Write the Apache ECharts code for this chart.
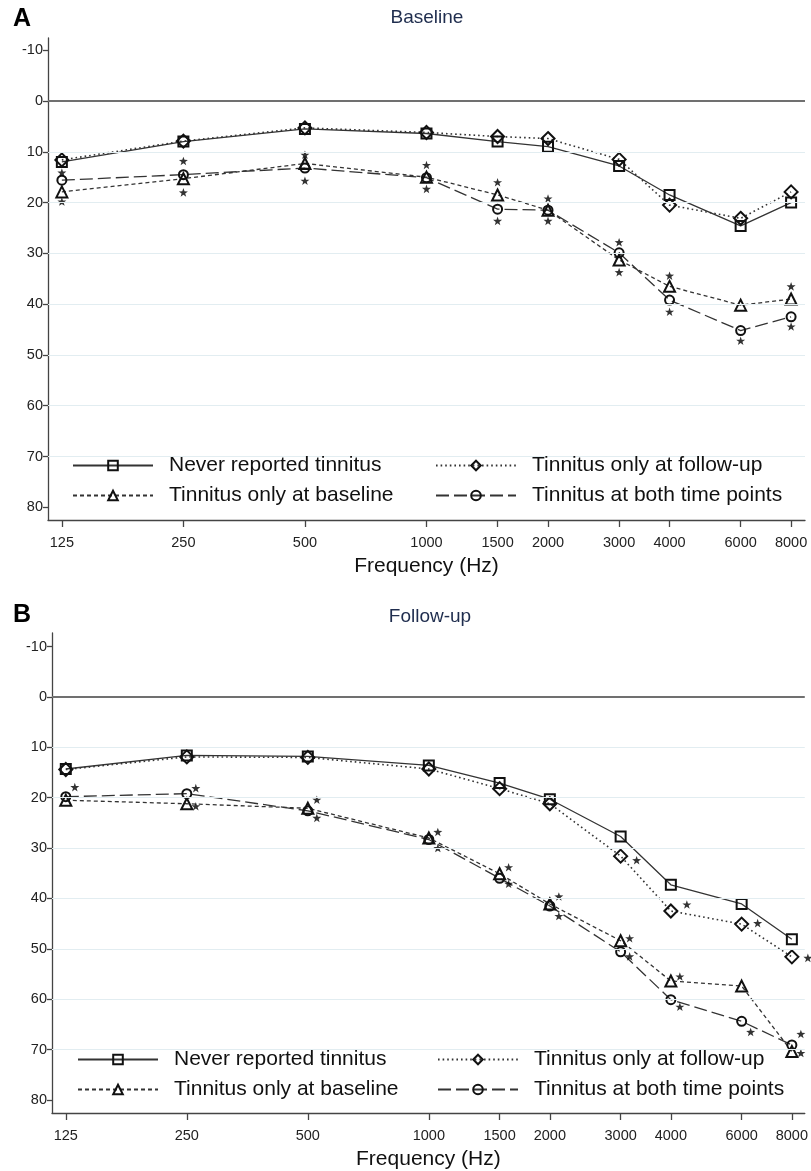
<!DOCTYPE html>
<html><head><meta charset="utf-8">
<script src="https://cdn.jsdelivr.net/npm/echarts@6/dist/echarts.min.js"></script>
<style>html,body{margin:0;padding:0;background:#fff}#c{width:811px;height:1171px}</style>
</head><body><div id="c"></div>
<script>
// ---------- data ----------
const freqs = [125, 250, 500, 1000, 1500, 2000, 3000, 4000, 6000, 8000];
const xTicks = [125, 250, 500, 1000, 1500, 2000, 3000, 4000, 6000, 8000];
const yTicks = [-10, 0, 10, 20, 30, 40, 50, 60, 70, 80];
const gridVals = [10, 20, 30, 40, 50, 60, 70];
const seriesNames = ['Never reported tinnitus', 'Tinnitus only at follow-up', 'Tinnitus only at baseline', 'Tinnitus at both time points'];

// Panel A: Baseline
const neverA    = [12.0, 8.0, 5.5, 6.4, 8.0, 9.0, 12.8, 18.5, 24.6, 20.0];
const followA   = [11.6, 7.9, 5.3, 6.2, 7.0, 7.4, 11.5, 20.5, 23.1, 17.9];
const baselineA = [17.9, 15.3, 12.3, 15.0, 18.5, 21.5, 31.3, 36.5, 40.2, 39.0];
const bothA     = [15.6, 14.5, 13.2, 15.1, 21.3, 21.5, 29.9, 39.2, 45.2, 42.5];
const starsA = [[125,14.1],[125,19.8],[250,11.8],[250,18.0],[500,10.6],[500,15.7],[1000,12.6],[1000,17.3],
                [1500,16.0],[1500,23.6],[2000,19.2],[2000,23.6],[3000,27.8],[3000,33.7],[4000,34.4],[4000,41.5],
                [6000,47.2],[8000,36.5],[8000,44.4]];

// Panel B: Follow-up
const neverB    = [14.3, 11.6, 11.8, 13.6, 17.1, 20.3, 27.7, 37.3, 41.1, 48.1];
const followB   = [14.4, 11.9, 12.0, 14.3, 18.2, 21.2, 31.6, 42.5, 45.1, 51.6];
const baselineB = [20.5, 21.2, 22.1, 28.0, 35.1, 41.1, 48.4, 56.4, 57.4, 70.4];
const bothB     = [19.8, 19.2, 22.6, 28.3, 36.0, 41.5, 50.6, 60.1, 64.4, 69.1];
const starsB = [[125,17.9],[250,18.1],[250,21.7],[500,20.4],[500,24.0],[1000,26.8],[1000,30.0],[1500,33.8],[1500,37.1],
                [2000,39.6],[2000,43.5],[3000,47.9],[3000,51.5],[4000,55.5],[4000,61.5],[6000,66.5],[8000,66.9],[8000,70.7]];
const starsBFollow = [[3000,32.4],[4000,41.2],[6000,44.9],[8000,51.8]];

// ---------- styles ----------
const sans = "'Liberation Sans', Arial, sans-serif";
const lineCol = '#333333';
const markCol = '#111111';
const starPath = 'path://M0,-10 L2.35,-3.24 L9.51,-3.09 L3.8,1.24 L5.88,8.09 L0,4 L-5.88,8.09 L-3.8,1.24 L-9.51,-3.09 L-2.35,-3.24 Z';
const styles = {
  'Never reported tinnitus':      {symbol:'rect', size:10, dash:'solid', w:1.3},
  'Tinnitus only at follow-up':   {symbol:'diamond', size:[13,13], dash:[1.6,3], w:1.6},
  'Tinnitus only at baseline':    {symbol:'triangle', size:11, dash:[4,3], w:1.3},
  'Tinnitus at both time points': {symbol:'circle', size:9, dash:[13,5], w:1.3}
};

function pairs(vals){ return freqs.map((f,i)=>[f, vals[i]]); }

function lineSeries(name, vals, idx){
  const s = styles[name];
  return {
    type:'line', name, xAxisIndex:idx, yAxisIndex:idx, data:pairs(vals),
    symbol:s.symbol, symbolSize:s.size, showAllSymbol:true, z:3,
    lineStyle:{color:lineCol, width:s.w, type:s.dash},
    itemStyle:{color:'rgba(255,255,255,0)', borderColor:markCol, borderWidth:2},
    emphasis:{disabled:true}, silent:true, animation:false
  };
}
function gridSeries(idx){
  return {
    type:'line', name:'_grid'+idx, xAxisIndex:idx, yAxisIndex:idx, data:pairs(neverA),
    showSymbol:false, lineStyle:{opacity:0}, silent:true, z:0, animation:false,
    markLine:{silent:true, symbol:['none','none'], label:{show:false}, animation:false,
      data: gridVals.map(v=>({yAxis:v, lineStyle:{color:'#e2edf1', width:1.2, type:'solid'}}))
        .concat([{yAxis:0, lineStyle:{color:'#707070', width:2, type:'solid'}}])}
  };
}
function starSeries(data, idx, dx){
  return {type:'scatter', xAxisIndex:idx, yAxisIndex:idx, data, symbol:starPath, symbolSize:9,
    symbolKeepAspect:true, symbolOffset:[dx,0], itemStyle:{color:'#000'}, silent:true, z:4, animation:false};
}
function xAxisCfg(idx, min, max){
  return {type:'log', logBase:2, gridIndex:idx, min, max,
    axisLine:{show:true, onZero:false, lineStyle:{color:'#444', width:1.3}},
    axisTick:{show:true, customValues:xTicks, length:7, lineStyle:{color:'#444', width:1.3}},
    axisLabel:{show:true, customValues:xTicks, margin:15, fontSize:14.5, color:'#222', fontFamily:sans,
      formatter:v=>String(Math.round(v))},
    splitLine:{show:false}, minorTick:{show:false}, minorSplitLine:{show:false},
    name:'Frequency (Hz)', nameLocation:'middle', nameGap:36,
    nameTextStyle:{fontSize:21, color:'#111', fontFamily:sans}};
}
function yAxisCfg(idx, min, max){
  return {type:'value', gridIndex:idx, inverse:true, min, max,
    axisLine:{show:true, onZero:false, lineStyle:{color:'#444', width:1.3}},
    axisTick:{show:true, customValues:yTicks, length:5, lineStyle:{color:'#444', width:1.3}},
    axisLabel:{show:true, customValues:yTicks, margin:5, fontSize:14.5, color:'#222', fontFamily:sans},
    splitLine:{show:false}};
}
function legendCfg(names, left, top){
  return {data:names, orient:'vertical', left, top, z:20, itemWidth:80, itemHeight:12, itemGap:9,
    selectedMode:false, backgroundColor:'rgba(0,0,0,0)',
    textStyle:{fontSize:21, color:'#111', fontFamily:sans, padding:[0,0,0,11]}};
}

const option = {
  animation:false,
  backgroundColor:'#fff',
  grid:[{left:48, right:6, top:38, height:482}, {left:52, right:3, top:633, height:480}],
  xAxis:[xAxisCfg(0, 115.5, 8660), xAxisCfg(1, 115.5, 8614)],
  yAxis:[yAxisCfg(0, -12.4, 82.5), yAxisCfg(1, -12.7, 82.6)],
  legend:[
    legendCfg(['Never reported tinnitus','Tinnitus only at baseline'], 67, 450),
    legendCfg(['Tinnitus only at follow-up','Tinnitus at both time points'], 430, 450),
    legendCfg(['Never reported tinnitus','Tinnitus only at baseline'], 72, 1044),
    legendCfg(['Tinnitus only at follow-up','Tinnitus at both time points'], 432, 1044)
  ],
  graphic:[
    {type:'text', left:13, top:7, style:{text:'A', font:"bold 25px 'Liberation Sans', Arial", fill:'#000'}},
    {type:'text', x:427, y:18, style:{text:'Baseline', font:"19px 'Liberation Sans', Arial", fill:'#1f2d4e', align:'center', verticalAlign:'middle'}},
    {type:'text', left:13, top:603, style:{text:'B', font:"bold 25px 'Liberation Sans', Arial", fill:'#000'}},
    {type:'text', x:430, y:617, style:{text:'Follow-up', font:"19px 'Liberation Sans', Arial", fill:'#1f2d4e', align:'center', verticalAlign:'middle'}}
  ],
  series:[
    gridSeries(0), gridSeries(1),
    lineSeries(seriesNames[0], neverA, 0),
    lineSeries(seriesNames[1], followA, 0),
    lineSeries(seriesNames[2], baselineA, 0),
    lineSeries(seriesNames[3], bothA, 0),
    lineSeries(seriesNames[0], neverB, 1),
    lineSeries(seriesNames[1], followB, 1),
    lineSeries(seriesNames[2], baselineB, 1),
    lineSeries(seriesNames[3], bothB, 1),
    starSeries(starsA, 0, 0),
    starSeries(starsB, 1, 9),
    starSeries(starsBFollow, 1, 16)
  ]
};
const chart = echarts.init(document.getElementById('c'), null, {renderer:'canvas'});
chart.setOption(option);
</script>
</body></html>
